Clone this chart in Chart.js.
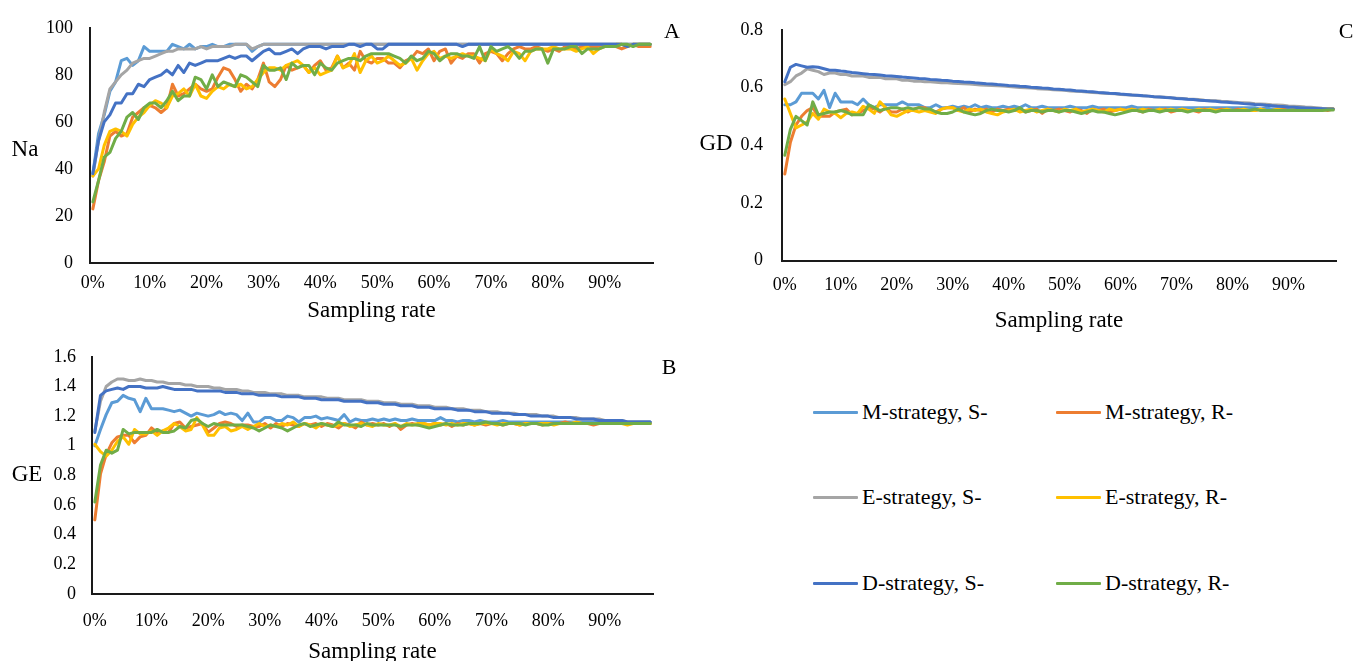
<!DOCTYPE html>
<html>
<head>
<meta charset="utf-8">
<script src="https://cdn.jsdelivr.net/npm/chart.js@4.4.1/dist/chart.umd.min.js"></script>
<style>
  html, body { margin: 0; padding: 0; background: #fff; overflow: hidden; width: 1354px; height: 661px; }
  .panel { position: absolute; }
  .txt { position: absolute; font-family: 'Liberation Serif', 'Times New Roman', serif; color: #000; white-space: nowrap; transform: translate(-50%, -50%); line-height: 1; }
  .leg { position: absolute; display: flex; align-items: center; height: 30px; font-family: 'Liberation Serif', 'Times New Roman', serif; font-size: 22px; color: #000; white-space: nowrap; }
  .leg span.sw { display: inline-block; width: 45px; height: 3px; margin-right: 4px; border-radius: 1px; }
</style>
</head>
<body>
<div class="panel" style="left:0;top:0;"><canvas id="chartA" width="680" height="340"></canvas></div>
<div class="panel" style="left:0;top:330px;"><canvas id="chartB" width="680" height="340"></canvas></div>
<div class="panel" style="left:690px;top:0;"><canvas id="chartC" width="664" height="340"></canvas></div>

<div class="txt" style="left:25px;top:148px;font-size:23px;">Na</div>
<div class="txt" style="left:27px;top:473px;font-size:23px;">GE</div>
<div class="txt" style="left:716px;top:142px;font-size:23px;">GD</div>
<div class="txt" style="left:672px;top:31px;font-size:22px;">A</div>
<div class="txt" style="left:669px;top:367px;font-size:22px;">B</div>
<div class="txt" style="left:1346px;top:31px;font-size:22px;">C</div>
<div id="legend"></div>

<script>
// Sampling rate categories (percent)
const samplingRates = [0,1,2,3,4,5,6,7,8,9,10,11,12,13,14,15,16,17,18,19,20,21,22,23,24,25,26,27,28,29,
  30,31,32,33,34,35,36,37,38,39,40,41,42,43,44,45,46,47,48,49,50,51,52,53,54,55,56,57,58,59,
  60,61,62,63,64,65,66,67,68,69,70,71,72,73,74,75,76,77,78,79,80,81,82,83,84,85,86,87,88,89,
  90,91,92,93,94,95,96,97,98];
const xTickLabels = ['0%','10%','20%','30%','40%','50%','60%','70%','80%','90%'];

const naTicks = [0, 20, 40, 60, 80, 100];
const geTicks = [0, 0.2, 0.4, 0.6, 0.8, 1, 1.2, 1.4, 1.6];
const gdTicks = [0, 0.2, 0.4, 0.6, 0.8];

const seriesNames = ['M-strategy, S-', 'M-strategy, R-', 'E-strategy, S-', 'E-strategy, R-', 'D-strategy, S-', 'D-strategy, R-'];
const seriesColors = ['#5B9BD5', '#ED7D31', '#A5A5A5', '#FFC000', '#4472C4', '#70AD47'];

// ---- Na ----
const naMS = [38,55,63,73,77,86,87,84,86,92,
  90,90,90,90,93,92,91,93,91,92,
  92,93,92,92,93,93,93,93,90,92,
  93,93,93,93,93,93,93,93,93,93,
  93,93,93,93,93,93,93,93,93,93,
  93,93,93,93,93,93,93,93,93,93,
  93,93,93,93,93,93,93,93,93,93,
  93,93,93,93,93,93,93,93,93,93,
  93,93,93,93,93,93,93,93,93,93,
  93,93,93,93,93,93,93,93,93];
const naMR = [23,35,43,54,56,54,55,62,64,66,
  67,66,64,66,76,71,72,74,76,74,
  73,74,79,83,82,78,73,76,74,78,
  85,77,75,78,84,82,83,84,81,84,
  86,82,83,88,83,85,82,90,86,85,
  87,87,85,85,83,86,87,90,89,91,
  86,90,91,85,88,87,89,89,85,89,
  90,89,86,89,91,92,91,91,92,91,
  90,91,90,92,92,91,92,92,92,92,
  92,92,92,91,92,93,92,92,92];
const naES = [37,52,64,74,77,80,82,85,86,87,
  87,88,89,90,90,91,91,91,91,92,
  91,92,92,92,92,93,93,93,91,92,
  93,93,93,93,93,93,93,93,93,93,
  93,93,93,93,93,93,93,93,93,93,
  93,93,93,93,93,93,93,93,93,93,
  93,93,93,93,93,93,93,93,93,93,
  93,93,93,93,93,93,93,93,93,93,
  93,93,93,93,93,93,93,93,93,93,
  93,93,93,93,93,93,93,93,93];
const naER = [37,40,50,56,57,56,54,59,62,64,
  67,69,68,66,71,72,74,71,76,71,
  70,73,75,74,76,75,76,74,75,78,
  81,83,83,82,84,85,86,84,81,83,
  80,81,82,88,83,84,89,81,86,88,
  85,86,88,86,84,85,87,82,86,89,
  90,87,88,87,88,89,88,88,87,86,
  91,89,88,86,90,89,86,90,91,91,
  91,92,91,91,91,90,91,92,89,91,
  92,92,93,93,92,93,93,93,93];
const naDS = [38,52,60,63,68,68,72,72,76,75,
  78,79,80,82,80,84,81,85,84,85,
  86,86,86,87,88,87,88,88,86,88,
  90,91,89,89,90,91,89,91,92,92,
  92,91,92,92,92,93,93,92,93,93,
  91,91,93,93,93,93,93,93,93,93,
  93,93,93,93,93,92,93,93,93,93,
  93,93,93,93,93,93,93,93,93,93,
  93,93,93,93,93,93,93,93,93,93,
  93,93,93,93,92,93,93,93,93];
const naDR = [26,35,45,47,53,56,62,64,61,66,
  68,68,66,69,73,69,71,71,79,78,
  74,80,75,77,76,75,80,79,77,75,
  84,82,82,83,78,85,83,84,84,80,
  85,83,82,85,86,87,87,86,88,89,
  89,89,89,88,87,85,88,86,87,90,
  89,86,88,89,89,88,88,87,92,86,
  92,90,91,92,90,87,90,90,91,91,
  85,91,91,91,92,92,89,91,91,91,
  92,92,92,93,93,92,93,93,93];

// ---- GE ----
const geMS = [1.00,1.11,1.21,1.29,1.30,1.34,1.32,1.31,1.23,1.32,
  1.25,1.25,1.25,1.24,1.23,1.24,1.22,1.20,1.22,1.21,
  1.20,1.21,1.23,1.21,1.22,1.21,1.17,1.22,1.16,1.16,
  1.19,1.19,1.17,1.17,1.20,1.19,1.16,1.19,1.19,1.20,
  1.18,1.19,1.18,1.17,1.21,1.16,1.18,1.17,1.17,1.18,
  1.17,1.18,1.17,1.18,1.17,1.17,1.18,1.17,1.17,1.17,
  1.17,1.19,1.17,1.17,1.16,1.17,1.17,1.16,1.17,1.16,
  1.16,1.16,1.17,1.16,1.16,1.16,1.16,1.16,1.16,1.16,
  1.16,1.16,1.16,1.16,1.16,1.16,1.16,1.16,1.16,1.16,
  1.16,1.16,1.16,1.16,1.16,1.16,1.16,1.16,1.16];
const geMR = [0.50,0.81,0.94,1.02,1.06,1.07,1.07,1.02,1.06,1.07,
  1.12,1.09,1.10,1.09,1.15,1.16,1.12,1.13,1.14,1.15,
  1.09,1.12,1.15,1.16,1.15,1.13,1.14,1.14,1.13,1.13,
  1.15,1.12,1.15,1.13,1.15,1.14,1.13,1.15,1.14,1.15,
  1.13,1.15,1.14,1.12,1.15,1.14,1.12,1.16,1.14,1.15,
  1.14,1.15,1.13,1.15,1.11,1.14,1.15,1.14,1.15,1.14,
  1.15,1.14,1.15,1.13,1.15,1.14,1.15,1.14,1.15,1.14,
  1.15,1.15,1.14,1.15,1.15,1.14,1.15,1.15,1.15,1.14,
  1.15,1.15,1.15,1.16,1.15,1.15,1.15,1.15,1.14,1.15,
  1.15,1.15,1.16,1.15,1.15,1.15,1.15,1.15,1.15];
const geES = [1.10,1.30,1.40,1.43,1.45,1.45,1.44,1.44,1.45,1.44,
  1.44,1.43,1.43,1.42,1.42,1.42,1.41,1.41,1.40,1.40,
  1.40,1.39,1.39,1.38,1.38,1.38,1.37,1.37,1.36,1.36,
  1.36,1.35,1.35,1.35,1.34,1.34,1.34,1.33,1.33,1.33,
  1.33,1.32,1.32,1.32,1.31,1.31,1.31,1.31,1.30,1.30,
  1.30,1.29,1.29,1.29,1.28,1.28,1.28,1.27,1.27,1.27,
  1.26,1.26,1.26,1.25,1.25,1.25,1.24,1.24,1.24,1.23,
  1.23,1.23,1.22,1.22,1.22,1.21,1.21,1.21,1.21,1.20,
  1.20,1.20,1.19,1.19,1.19,1.19,1.18,1.18,1.18,1.18,
  1.17,1.17,1.17,1.17,1.16,1.16,1.16,1.16,1.16];
const geER = [1.01,0.96,0.93,0.97,1.03,1.06,1.01,1.11,1.08,1.08,
  1.10,1.07,1.10,1.12,1.15,1.13,1.10,1.11,1.19,1.14,
  1.07,1.07,1.12,1.13,1.10,1.11,1.13,1.11,1.13,1.15,
  1.13,1.14,1.13,1.15,1.14,1.16,1.13,1.15,1.14,1.12,
  1.15,1.14,1.13,1.14,1.15,1.13,1.14,1.15,1.14,1.13,
  1.15,1.14,1.14,1.15,1.13,1.15,1.14,1.15,1.15,1.14,
  1.15,1.15,1.14,1.15,1.14,1.15,1.15,1.14,1.15,1.15,
  1.15,1.14,1.15,1.15,1.15,1.14,1.15,1.15,1.15,1.15,
  1.15,1.14,1.15,1.15,1.15,1.16,1.15,1.15,1.15,1.15,
  1.15,1.15,1.15,1.15,1.14,1.15,1.15,1.15,1.15];
const geDS = [1.09,1.34,1.37,1.38,1.39,1.38,1.40,1.40,1.40,1.39,
  1.39,1.39,1.40,1.39,1.38,1.38,1.38,1.38,1.37,1.37,
  1.37,1.37,1.37,1.36,1.36,1.36,1.35,1.35,1.35,1.34,
  1.34,1.34,1.34,1.33,1.33,1.33,1.33,1.32,1.32,1.32,
  1.31,1.31,1.31,1.31,1.30,1.30,1.30,1.30,1.29,1.29,
  1.29,1.28,1.28,1.28,1.27,1.27,1.27,1.26,1.26,1.26,
  1.25,1.25,1.25,1.25,1.24,1.24,1.24,1.23,1.23,1.23,
  1.22,1.22,1.22,1.22,1.21,1.21,1.21,1.20,1.20,1.20,
  1.20,1.19,1.19,1.19,1.19,1.18,1.18,1.18,1.18,1.17,
  1.17,1.17,1.17,1.17,1.16,1.16,1.16,1.16,1.16];
const geDR = [0.62,0.87,0.97,0.95,0.97,1.11,1.08,1.09,1.09,1.09,
  1.09,1.11,1.09,1.09,1.10,1.13,1.12,1.17,1.18,1.15,
  1.13,1.15,1.14,1.14,1.14,1.14,1.14,1.13,1.12,1.10,
  1.12,1.14,1.13,1.12,1.10,1.12,1.14,1.15,1.13,1.14,
  1.15,1.14,1.13,1.16,1.14,1.14,1.14,1.13,1.15,1.14,
  1.14,1.14,1.14,1.14,1.13,1.14,1.14,1.14,1.13,1.12,
  1.13,1.14,1.15,1.14,1.14,1.14,1.15,1.15,1.15,1.16,
  1.15,1.15,1.14,1.15,1.15,1.15,1.14,1.15,1.15,1.14,
  1.14,1.15,1.15,1.15,1.15,1.15,1.15,1.15,1.15,1.15,
  1.15,1.15,1.15,1.15,1.15,1.15,1.15,1.15,1.15];

// ---- GD ----
const gdMS = [0.54,0.54,0.55,0.58,0.58,0.58,0.56,0.59,0.53,0.58,
  0.55,0.55,0.55,0.54,0.56,0.54,0.53,0.54,0.54,0.54,
  0.54,0.55,0.54,0.54,0.54,0.53,0.53,0.54,0.53,0.53,
  0.535,0.53,0.535,0.53,0.54,0.53,0.535,0.53,0.53,0.535,
  0.53,0.535,0.53,0.54,0.53,0.53,0.535,0.53,0.53,0.53,
  0.53,0.535,0.53,0.53,0.53,0.535,0.53,0.53,0.53,0.53,
  0.53,0.53,0.535,0.53,0.53,0.53,0.53,0.53,0.53,0.53,
  0.53,0.53,0.53,0.53,0.53,0.53,0.53,0.53,0.53,0.53,
  0.53,0.53,0.53,0.53,0.53,0.525,0.53,0.525,0.525,0.525,
  0.525,0.525,0.525,0.525,0.525,0.525,0.525,0.525,0.525];
const gdMR = [0.30,0.41,0.47,0.50,0.52,0.53,0.50,0.50,0.50,0.515,
  0.52,0.525,0.505,0.51,0.52,0.53,0.525,0.515,0.53,0.515,
  0.515,0.525,0.515,0.525,0.53,0.53,0.52,0.515,0.525,0.53,
  0.53,0.52,0.53,0.515,0.525,0.52,0.525,0.515,0.525,0.52,
  0.525,0.52,0.525,0.515,0.52,0.525,0.51,0.525,0.52,0.525,
  0.52,0.515,0.525,0.52,0.51,0.525,0.52,0.525,0.515,0.52,
  0.525,0.52,0.525,0.52,0.515,0.525,0.52,0.52,0.525,0.515,
  0.52,0.525,0.52,0.52,0.515,0.525,0.52,0.52,0.525,0.52,
  0.52,0.525,0.52,0.52,0.52,0.525,0.52,0.52,0.52,0.525,
  0.52,0.52,0.525,0.52,0.52,0.52,0.525,0.52,0.525];
const gdES = [0.61,0.62,0.64,0.65,0.665,0.66,0.655,0.645,0.65,0.65,
  0.645,0.645,0.64,0.64,0.64,0.635,0.635,0.635,0.63,0.63,
  0.63,0.625,0.625,0.622,0.622,0.62,0.62,0.618,0.616,0.616,
  0.615,0.614,0.613,0.612,0.61,0.609,0.608,0.607,0.606,0.605,
  0.603,0.602,0.60,0.599,0.598,0.596,0.595,0.594,0.592,0.591,
  0.59,0.588,0.587,0.586,0.584,0.583,0.582,0.58,0.579,0.578,
  0.576,0.575,0.574,0.572,0.571,0.57,0.568,0.567,0.566,0.564,
  0.563,0.562,0.56,0.559,0.558,0.556,0.555,0.554,0.552,0.551,
  0.55,0.548,0.547,0.546,0.544,0.543,0.542,0.54,0.539,0.538,
  0.536,0.535,0.534,0.532,0.531,0.53,0.528,0.527,0.526];
const gdER = [0.56,0.51,0.46,0.47,0.48,0.51,0.49,0.525,0.515,0.51,
  0.495,0.51,0.515,0.51,0.535,0.525,0.51,0.55,0.53,0.505,
  0.50,0.51,0.52,0.52,0.515,0.52,0.515,0.51,0.525,0.53,
  0.53,0.52,0.515,0.525,0.52,0.525,0.515,0.51,0.505,0.515,
  0.52,0.525,0.515,0.52,0.525,0.515,0.52,0.525,0.52,0.515,
  0.525,0.52,0.525,0.515,0.52,0.525,0.52,0.515,0.525,0.52,
  0.525,0.52,0.525,0.52,0.525,0.52,0.52,0.525,0.52,0.525,
  0.52,0.525,0.52,0.52,0.525,0.52,0.525,0.52,0.52,0.525,
  0.52,0.52,0.525,0.52,0.52,0.525,0.52,0.52,0.525,0.52,
  0.52,0.525,0.52,0.52,0.525,0.52,0.52,0.525,0.525];
const gdDS = [0.62,0.67,0.68,0.675,0.67,0.672,0.67,0.665,0.66,0.66,
  0.657,0.655,0.652,0.65,0.648,0.646,0.645,0.643,0.641,0.64,
  0.638,0.636,0.635,0.633,0.631,0.63,0.628,0.627,0.625,0.624,
  0.622,0.621,0.619,0.618,0.616,0.615,0.613,0.612,0.61,0.609,
  0.607,0.606,0.604,0.603,0.601,0.60,0.598,0.597,0.595,0.594,
  0.592,0.591,0.589,0.588,0.586,0.585,0.583,0.582,0.58,0.579,
  0.577,0.576,0.574,0.573,0.571,0.57,0.568,0.567,0.565,0.564,
  0.562,0.561,0.559,0.558,0.556,0.555,0.553,0.552,0.55,0.549,
  0.547,0.546,0.544,0.543,0.541,0.54,0.538,0.537,0.535,0.534,
  0.532,0.531,0.53,0.529,0.528,0.527,0.526,0.525,0.525];
const gdDR = [0.365,0.455,0.50,0.485,0.47,0.55,0.505,0.51,0.515,0.515,
  0.52,0.515,0.505,0.505,0.505,0.54,0.53,0.52,0.525,0.53,
  0.53,0.525,0.53,0.525,0.53,0.525,0.525,0.515,0.51,0.51,
  0.515,0.525,0.515,0.51,0.505,0.51,0.52,0.525,0.52,0.52,
  0.515,0.52,0.53,0.515,0.52,0.52,0.515,0.52,0.52,0.515,
  0.52,0.52,0.515,0.51,0.515,0.52,0.515,0.515,0.51,0.505,
  0.51,0.515,0.52,0.52,0.515,0.52,0.52,0.515,0.52,0.52,
  0.52,0.52,0.515,0.52,0.52,0.52,0.52,0.515,0.52,0.52,
  0.52,0.52,0.52,0.52,0.525,0.52,0.52,0.52,0.52,0.52,
  0.52,0.52,0.52,0.52,0.52,0.52,0.52,0.522,0.522];

const serif = "'Liberation Serif', 'Times New Roman', serif";
const categoryLabels = samplingRates.map(r => r + '%');

function buildPanel(canvasId, series, yTicks, geom) {
  const datasets = series.map((vals, k) => ({
    label: seriesNames[k],
    data: vals,
    borderColor: seriesColors[k],
    backgroundColor: seriesColors[k],
    borderWidth: 3,
    pointRadius: 0,
    tension: 0,
    fill: false,
    borderJoinStyle: 'round',
    borderCapStyle: 'round',
    order: series.length - k   // later series are painted above earlier ones
  }));
  return new Chart(document.getElementById(canvasId), {
    type: 'line',
    data: { labels: categoryLabels, datasets },
    options: {
      responsive: false,
      animation: false,
      events: [],
      layout: { padding: { left: 0, top: geom.top, right: geom.right, bottom: 0 } },
      plugins: { legend: { display: false }, tooltip: { enabled: false } },
      scales: {
        x: {
          type: 'category',
          offset: true,
          grid: { display: false, drawTicks: false },
          border: { display: true, color: '#1a1a1a', width: 2 },
          ticks: {
            autoSkip: false,
            maxRotation: 0,
            minRotation: 0,
            padding: geom.xPad,
            color: '#000',
            font: { family: serif, size: 18 },
            callback: function (value) {
              const lab = this.getLabelForValue(value);
              return xTickLabels.includes(lab) ? lab : '';
            }
          },
          title: {
            display: true,
            text: 'Sampling rate',
            color: '#000',
            font: { family: serif, size: 23 },
            padding: { top: 0, bottom: geom.titlePad }
          },
          afterFit: s => { s.height = geom.xHeight; }
        },
        y: {
          min: yTicks[0],
          max: yTicks[yTicks.length - 1],
          grid: { display: false, drawTicks: false },
          border: { display: true, color: '#1a1a1a', width: 2 },
          afterBuildTicks: s => { s.ticks = yTicks.map(v => ({ value: v })); },
          ticks: {
            padding: geom.yPad,
            color: '#000',
            font: { family: serif, size: 18 },
            callback: v => String(v)
          },
          afterFit: s => { s.width = geom.yWidth; }
        }
      }
    }
  });
}

buildPanel('chartA', [naMS, naMR, naES, naER, naDS, naDR], naTicks,
  { top: 23, right: 27, yWidth: 90, xHeight: 77, xPad: 9, yPad: 17, titlePad: 15 });
buildPanel('chartB', [geMS, geMR, geES, geER, geDS, geDR], geTicks,
  { top: 18, right: 27, yWidth: 92, xHeight: 76, xPad: 16, yPad: 16, titlePad: 4 });
buildPanel('chartC', [gdMS, gdMR, gdES, gdER, gdDS, gdDR], gdTicks,
  { top: 18.5, right: 18, yWidth: 92, xHeight: 79.5, xPad: 14, yPad: 19, titlePad: 5 });

// Shared legend, two columns by three rows
const legendCols = [813, 1056];
const legendRows = [412, 497, 583];
const legend = document.getElementById('legend');
seriesNames.forEach((name, k) => {
  const item = document.createElement('div');
  item.className = 'leg';
  item.style.left = legendCols[k % 2] + 'px';
  item.style.top = (legendRows[Math.floor(k / 2)] - 15) + 'px';
  const sw = document.createElement('span');
  sw.className = 'sw';
  sw.style.background = seriesColors[k];
  item.appendChild(sw);
  item.appendChild(document.createTextNode(name));
  legend.appendChild(item);
});
</script>
</body>
</html>
